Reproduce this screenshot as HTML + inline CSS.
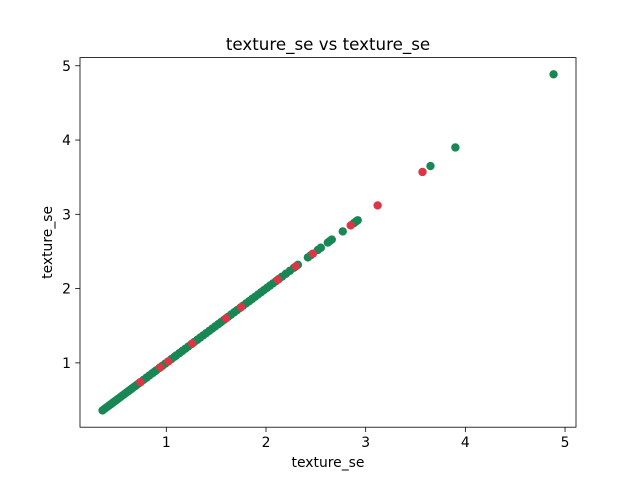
<!DOCTYPE html>
<html><head><meta charset="utf-8"><style>
html,body{margin:0;padding:0;background:#fff;}
svg text{font-family:"DejaVu Sans","Liberation Sans",sans-serif;fill:#000;}
</style></head><body>
<svg id="chart" width="640" height="480" xmlns="http://www.w3.org/2000/svg">
<rect width="640" height="480" fill="#fff"/>
<text x="328" y="50" font-size="16.7" text-anchor="middle">texture_se vs texture_se</text>
<g id="marks"></g>
<rect x="80" y="57.6" width="496" height="369.6" fill="none" stroke="#000" stroke-width="0.8"/>
<g id="xt"></g>
<g id="yt"></g>
<text x="328" y="467" font-size="13.9" text-anchor="middle">texture_se</text>
<text transform="translate(52,242.4) rotate(-90)" font-size="13.9" text-anchor="middle">texture_se</text>
</svg>
<script>
const greenVals=[0.36,0.38,0.40,0.42,0.44,0.46,0.48,0.50,0.52,0.54,0.56,0.58,0.60,0.62,0.64,0.66,0.68,0.70,0.72,0.74,0.77,0.80,0.83,0.86,0.88,0.90,0.93,0.96,0.99,1.02,1.05,1.08,1.10,1.13,1.16,1.19,1.22,1.25,1.28,1.31,1.34,1.37,1.40,1.43,1.46,1.49,1.52,1.55,1.58,1.62,1.65,1.68,1.71,1.74,1.77,1.80,1.83,1.86,1.89,1.92,1.95,1.98,2.01,2.04,2.07,2.10,2.13,2.16,2.20,2.24,2.28,2.32,2.42,2.45,2.52,2.55,2.62,2.64,2.66,2.77,2.88,2.90,2.92,3.65,3.90,4.885];
const redVals=[0.74,0.94,1.02,1.26,1.60,1.75,2.12,2.30,2.47,2.85,3.12,3.57];
const xTicks=[1,2,3,4,5];
const yTicks=[1,2,3,4,5];
const lo=0.134, hi=5.11;
const X=v=>80+(v-lo)/(hi-lo)*496;
const Y=v=>427.2-(v-lo)/(hi-lo)*369.6;
const NS="http://www.w3.org/2000/svg";
const marks=document.getElementById('marks');
function dot(v,color,name){
  const c=document.createElementNS(NS,'circle');
  c.setAttribute('cx',X(v));c.setAttribute('cy',Y(v));c.setAttribute('r',4.2);c.setAttribute('fill',color);
  
  
  marks.appendChild(c);
}
greenVals.forEach(v=>dot(v,'#198754','point-green'));
redVals.forEach(v=>dot(v,'#dc3545','point-red'));
const xt=document.getElementById('xt'), yt=document.getElementById('yt');
xTicks.forEach(t=>{
  const l=document.createElementNS(NS,'line');
  l.setAttribute('x1',X(t));l.setAttribute('x2',X(t));l.setAttribute('y1',427.2);l.setAttribute('y2',432);l.setAttribute('stroke','#000');l.setAttribute('stroke-width',0.8);
  
  
  xt.appendChild(l);
  const s=document.createElementNS(NS,'text');
  s.setAttribute('x',X(t));s.setAttribute('y',447);s.setAttribute('font-size',13.9);s.setAttribute('text-anchor','middle');s.textContent=t;
  
  
  xt.appendChild(s);
});
yTicks.forEach(t=>{
  const l=document.createElementNS(NS,'line');
  l.setAttribute('x1',75.2);l.setAttribute('x2',80);l.setAttribute('y1',Y(t));l.setAttribute('y2',Y(t));l.setAttribute('stroke','#000');l.setAttribute('stroke-width',0.8);
  
  
  yt.appendChild(l);
  const s=document.createElementNS(NS,'text');
  s.setAttribute('x',71);s.setAttribute('y',Y(t)+5);s.setAttribute('font-size',13.9);s.setAttribute('text-anchor','end');s.textContent=t;
  
  
  yt.appendChild(s);
});
</script>
</body></html>
